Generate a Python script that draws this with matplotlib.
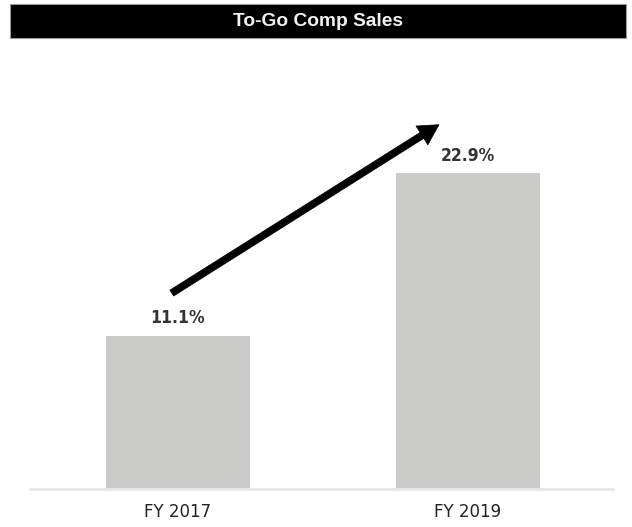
import matplotlib
matplotlib.use("Agg")
import matplotlib.pyplot as plt
from matplotlib.patches import Rectangle

title = "To-Go Comp Sales"
categories = ["FY 2017", "FY 2019"]
values = [11.1, 22.9]
labels = ["11.1%", "22.9%"]

W, H = 632, 527
fig = plt.figure(figsize=(W / 100, H / 100), dpi=100)

# header bar
fig.patches.append(Rectangle((10 / W, 1 - 38 / H), 616 / W, 34 / H,
                             transform=fig.transFigure, facecolor="black",
                             edgecolor="#9a9a9a", linewidth=0.8))
fig.text(318 / W, 1 - 21.5 / H, title, color="#f2f2f2", fontsize=13.8,
         fontweight="bold", family="Liberation Sans", ha="center", va="center")

ax_left, ax_right, ax_bottom, ax_top = 30, 613, 489, 50
ax = fig.add_axes([ax_left / W, 1 - ax_bottom / H, (ax_right - ax_left) / W,
                   (ax_bottom - ax_top) / H])

x = list(range(len(categories)))
ax.bar(x, values, width=0.497, color="#cacbc8", zorder=2)
ax.set_xlim(-0.51, 1.5)
ax.set_ylim(0, (ax_bottom - ax_top) / 13.8)

for xi, v, lab in zip(x, values, labels):
    ax.annotate(lab, (xi, v), xytext=(0, 6), textcoords="offset points",
                ha="center", va="bottom", fontsize=12.5, fontweight="bold",
                fontstretch="condensed", color="#333333",
                family="DejaVu Sans")

# trend arrow from first to second bar
ax.annotate("", xy=(0.9, 26.4), xytext=(-0.021, 14.2),
            arrowprops=dict(arrowstyle="simple,head_length=1.45,head_width=1.6,tail_width=0.5",
                            mutation_scale=10, facecolor="black",
                            edgecolor="black", lw=0.5, shrinkA=0, shrinkB=0))

for s in ["top", "right", "left"]:
    ax.spines[s].set_visible(False)
ax.spines["bottom"].set_color("#e8e8e8")
ax.spines["bottom"].set_linewidth(2)
ax.set_yticks([])
ax.set_xticks(x)
ax.set_xticklabels(categories, fontsize=12, color="#222222", family="DejaVu Sans")
ax.tick_params(axis="x", length=0, pad=10)

fig.savefig("out.png", dpi=100)
